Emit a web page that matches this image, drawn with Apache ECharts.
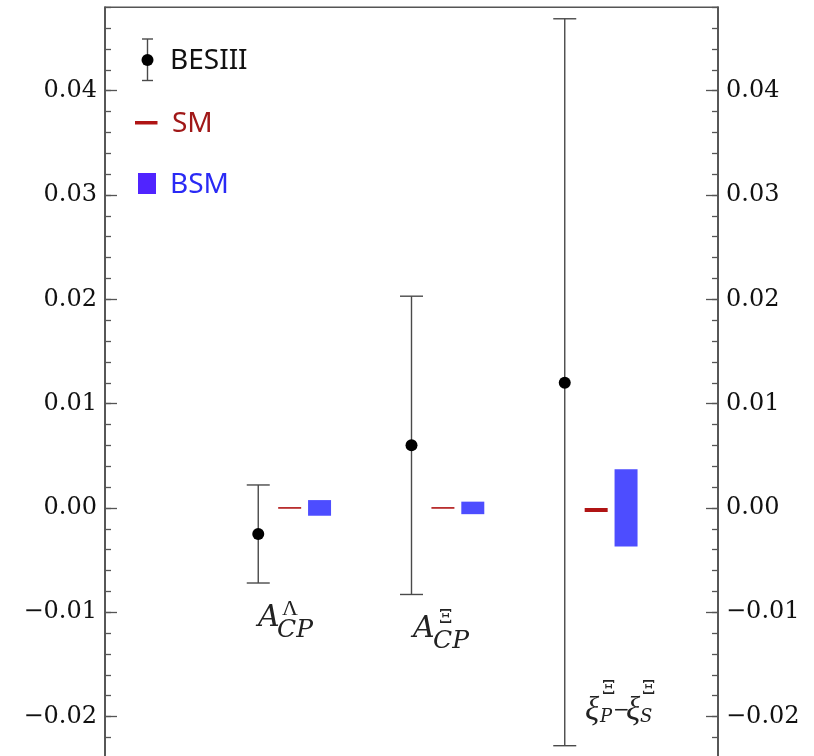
<!DOCTYPE html>
<html>
<head>
<meta charset="utf-8">
<script src="https://cdn.jsdelivr.net/npm/echarts@6/dist/echarts.min.js"></script>
<style>
html,body{margin:0;padding:0;background:#fff;}
#main{width:814px;height:756px;}
</style>
</head>
<body>
<div id="main"></div>
<script>
// ---- data ----
const categories = ['A_CP^Λ', 'A_CP^Ξ', 'ξ_P^Ξ−ξ_S^Ξ'];
const besiiiValue = [-0.0025, 0.0060, 0.0120];
const besiiiLow = [-0.0072, -0.0083, -0.0228];
const besiiiHigh = [0.0022, 0.0203, 0.0469];
const smValue = [0, 0, -0.0002];
const bsmLow = [-0.00075, -0.0006, -0.0037];
const bsmHigh = [0.00075, 0.0006, 0.0037];
const yMin = -0.03, yMax = 0.048, yMajor = 0.01, yMinor = 0.002;

// ---- chart ----
const chart = echarts.init(document.getElementById('main'), null, {renderer: 'canvas'});
const axisColor = '#555';
const serif = 'DejaVu Serif';

function fmt(v) {
  const k = v / yMajor;
  if (Math.abs(k - Math.round(k)) > 1e-6) return '';
  const r = Math.round(k) * yMajor;
  return (r < -1e-9 ? '\u2212' : '') + Math.abs(r).toFixed(2);
}

function yAxis(pos, major) {
  return {
    type: 'value', position: pos, min: yMin, max: yMax,
    interval: major ? yMajor : yMinor,
    axisLine: {show: true, lineStyle: {color: axisColor, width: 1.5}},
    axisTick: {show: true, inside: true, length: major ? 12 : 6, lineStyle: {color: axisColor, width: 1.3}},
    axisLabel: major ? {show: true, formatter: fmt, margin: 8, color: '#111', fontFamily: serif, fontSize: 24, showMaxLabel: false} : {show: false},
    splitLine: {show: false}, minorTick: {show: false}
  };
}

const besiiiData = categories.map((c, i) => [i + 1, besiiiValue[i], besiiiLow[i], besiiiHigh[i]]);
const smData = categories.map((c, i) => [i + 1.205, smValue[i], i]);
const bsmData = categories.map((c, i) => [i + 1.4, bsmLow[i], bsmHigh[i]]);

const ital = (s) => 'italic ' + s + 'px "DejaVu Serif"';
const up = (s) => s + 'px "DejaVu Serif"';
const italL = (s) => 'italic ' + s + 'px "Liberation Serif"';
const upL = (s) => s + 'px "Liberation Serif"';
function t(x, y, text, font) {
  return {type: 'text', x: x, y: y, style: {text: text, fill: '#222', font: font, verticalAlign: 'middle'}};
}

const option = {
  animation: false,
  backgroundColor: '#fff',
  grid: {left: 105, top: 7.3, width: 613, height: 813.5, containLabel: false, outerBoundsMode: 'none',
         show: true, borderColor: axisColor, borderWidth: 1.5, backgroundColor: 'transparent'},
  xAxis: {type: 'value', min: 0, max: 4, show: false},
  yAxis: [yAxis('left', true), yAxis('left', false), yAxis('right', true), yAxis('right', false)],
  series: [
    {
      name: 'BESIII', type: 'custom', yAxisIndex: 0, data: besiiiData,
      renderItem: function (params, api) {
        const x = api.value(0);
        const p = api.coord([x, api.value(1)]);
        const lo = api.coord([x, api.value(2)]);
        const hi = api.coord([x, api.value(3)]);
        const cw = 11.5;
        const st = {stroke: '#4a4a4a', lineWidth: 1.4};
        return {type: 'group', children: [
          {type: 'line', shape: {x1: lo[0], y1: lo[1], x2: hi[0], y2: hi[1]}, style: st},
          {type: 'line', shape: {x1: lo[0] - cw, y1: lo[1], x2: lo[0] + cw, y2: lo[1]}, style: st},
          {type: 'line', shape: {x1: hi[0] - cw, y1: hi[1], x2: hi[0] + cw, y2: hi[1]}, style: st},
          {type: 'circle', shape: {cx: p[0], cy: p[1], r: 6}, style: {fill: '#000'}}
        ]};
      }
    },
    {
      name: 'SM', type: 'custom', yAxisIndex: 0, data: smData,
      renderItem: function (params, api) {
        const c = api.coord([api.value(0), api.value(1)]);
        const w = api.size([0.15, 0])[0];
        const thick = api.value(2) === 2 ? 4 : 1.6;
        return {type: 'rect', shape: {x: c[0] - w / 2, y: c[1] - thick / 2, width: w, height: thick}, style: {fill: '#b01414'}};
      }
    },
    {
      name: 'BSM', type: 'custom', yAxisIndex: 0, data: bsmData,
      renderItem: function (params, api) {
        const lo = api.coord([api.value(0), api.value(1)]);
        const hi = api.coord([api.value(0), api.value(2)]);
        const w = api.size([0.15, 0])[0];
        return {type: 'rect', shape: {x: lo[0] - w / 2, y: hi[1], width: w, height: lo[1] - hi[1]}, style: {fill: '#4d4dff'}};
      }
    }
  ],
  graphic: [
    // legend
    {type: 'line', shape: {x1: 147.5, y1: 39, x2: 147.5, y2: 80.5}, style: {stroke: '#4a4a4a', lineWidth: 1.4}},
    {type: 'line', shape: {x1: 142, y1: 39, x2: 153, y2: 39}, style: {stroke: '#4a4a4a', lineWidth: 1.4}},
    {type: 'line', shape: {x1: 142, y1: 80.5, x2: 153, y2: 80.5}, style: {stroke: '#4a4a4a', lineWidth: 1.4}},
    {type: 'circle', shape: {cx: 147.5, cy: 60, r: 6}, style: {fill: '#000'}},
    {type: 'text', x: 170, y: 61, style: {text: 'BESIII', fill: '#111', font: '28px "Noto Sans"', verticalAlign: 'middle'}},
    {type: 'rect', shape: {x: 135, y: 121, width: 22.5, height: 3.5}, style: {fill: '#b01414'}},
    {type: 'text', x: 172, y: 124, style: {text: 'SM', fill: '#a01818', font: '28px "Noto Sans"', verticalAlign: 'middle'}},
    {type: 'rect', shape: {x: 138, y: 173, width: 18, height: 21}, style: {fill: '#5024ff'}},
    {type: 'text', x: 170, y: 185, style: {text: 'BSM', fill: '#2a2af5', font: '28px "Noto Sans"', verticalAlign: 'middle'}},
    // category labels
    t(258, 618, 'A', ital(30)),
    t(282, 609, 'Λ', upL(22)),
    t(277, 630, 'CP', ital(25)),
    t(413, 629, 'A', ital(30)),
    t(439, 618, 'Ξ', up(19)),
    t(433, 641, 'CP', ital(25)),
    t(585, 711, 'ξ', italL(33)),
    t(600, 717, 'P', ital(18)),
    t(602, 689, 'Ξ', up(19)),
    t(613, 711, '\u2212', up(20)),
    t(626, 711, 'ξ', italL(33)),
    t(640, 717, 'S', ital(18)),
    t(642, 689, 'Ξ', up(19))
  ]
};
chart.setOption(option);
</script>
</body>
</html>
